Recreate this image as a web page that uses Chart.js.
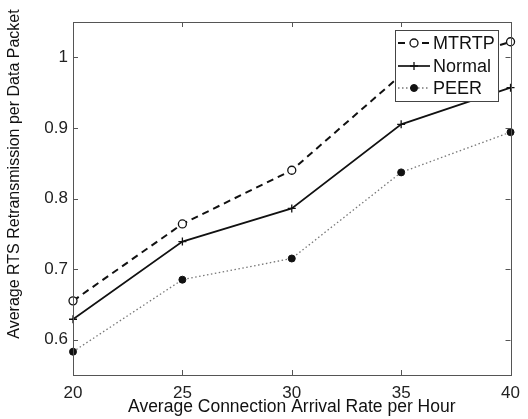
<!DOCTYPE html>
<html>
<head>
<meta charset="utf-8">
<script src="https://cdn.jsdelivr.net/npm/chart.js@4"></script>
<style>
  html, body { margin: 0; padding: 0; background: #fff; }
  #wrap { width: 528px; height: 419px; }
</style>
</head>
<body>
<div id="wrap"><canvas id="c" width="528" height="419"></canvas></div>
<script>
// Connection arrival rates (per hour)
const arrivalRates = [20, 25, 30, 35, 40];
// Average RTS retransmissions per data packet for each scheme
const mtrtpValues  = [0.655, 0.764, 0.840, 0.975, 1.022];
const normalValues = [0.629, 0.739, 0.786, 0.905, 0.957];
const peerValues   = [0.583, 0.685, 0.715, 0.837, 0.894];
// Axis ticks
const xTicks = [20, 25, 30, 35, 40];
const yTicks = [0.6, 0.7, 0.8, 0.9, 1.0];
const seriesNames = ['MTRTP', 'Normal', 'PEER'];
const yTitle = 'Average RTS Retransmission per Data Packet';
const xTitle = 'Average Connection Arrival Rate per Hour';

const FONT = 'Liberation Sans, Arial, Helvetica, sans-serif';

function toPoints(vals) {
  return arrivalRates.map((x, i) => ({ x: x, y: vals[i] }));
}

// Draws the box frame with inward ticks on all four sides, the legend and the y title
const framePlugin = {
  id: 'frame',
  afterDatasetsDraw(chart) {
    const ctx = chart.ctx;
    const a = chart.chartArea;
    const xs = chart.scales.x, ys = chart.scales.y;
    const tl = 5;
    ctx.save();
    ctx.strokeStyle = '#555';
    ctx.lineWidth = 1;
    ctx.beginPath();
    xTicks.forEach(v => {
      const px = Math.round(xs.getPixelForValue(v)) + 0.5;
      ctx.moveTo(px, a.bottom); ctx.lineTo(px, a.bottom - tl);
      ctx.moveTo(px, a.top); ctx.lineTo(px, a.top + tl);
    });
    yTicks.forEach(v => {
      const py = Math.round(ys.getPixelForValue(v)) + 0.5;
      ctx.moveTo(a.left, py); ctx.lineTo(a.left + tl, py);
      ctx.moveTo(a.right, py); ctx.lineTo(a.right - tl, py);
    });
    ctx.stroke();
    ctx.strokeRect(Math.round(a.left) + 0.5, Math.round(a.top) + 0.5,
                   Math.round(a.right - a.left), Math.round(a.bottom - a.top));
    ctx.restore();
  },
  afterDraw(chart) {
    const ctx = chart.ctx;
    const a = chart.chartArea;

    // Rotated y-axis title
    ctx.save();
    ctx.translate(15, 174);
    ctx.rotate(-Math.PI / 2);
    ctx.fillStyle = '#111';
    ctx.font = '16px ' + FONT;
    ctx.textAlign = 'center';
    ctx.textBaseline = 'middle';
    ctx.fillText(yTitle, 0, 0);
    ctx.restore();

    // Legend box in the upper-right corner of the plot
    const bx = Math.round(a.right - 116), by = Math.round(a.top + 8), bw = 103, bh = 71;
    ctx.save();
    ctx.fillStyle = '#fff';
    ctx.fillRect(bx, by, bw, bh);
    ctx.strokeStyle = '#444';
    ctx.lineWidth = 1;
    ctx.strokeRect(bx + 0.5, by + 0.5, bw, bh);
    const rowY = [by + 13, by + 36, by + 58];
    chart.data.datasets.forEach((ds, i) => {
      const y = rowY[i];
      const x0 = bx + 3, x1 = bx + 35, xm = (x0 + x1) / 2;
      ctx.save();
      ctx.strokeStyle = ds.borderColor;
      ctx.lineWidth = ds.borderWidth;
      ctx.setLineDash(ds.borderDash || []);
      ctx.beginPath();
      ctx.moveTo(x0, y); ctx.lineTo(x1, y);
      ctx.stroke();
      ctx.restore();
      ctx.fillStyle = ds.pointBackgroundColor;
      ctx.strokeStyle = ds.pointBorderColor;
      ctx.lineWidth = ds.pointBorderWidth;
      ctx.beginPath();
      if (ds.pointStyle === 'circle') {
        ctx.arc(xm, y, ds.pointRadius, 0, Math.PI * 2);
        ctx.fill(); ctx.stroke();
      } else {
        ctx.moveTo(xm - ds.pointRadius, y); ctx.lineTo(xm + ds.pointRadius, y);
        ctx.moveTo(xm, y - ds.pointRadius); ctx.lineTo(xm, y + ds.pointRadius);
        ctx.stroke();
      }
      ctx.fillStyle = '#111';
      ctx.font = '18px ' + FONT;
      ctx.textBaseline = 'middle';
      ctx.textAlign = 'left';
      ctx.fillText(ds.label, x1 + 3, y + 1);
    });
    ctx.restore();
  }
};

new Chart(document.getElementById('c'), {
  type: 'line',
  data: {
    datasets: [
      {
        label: seriesNames[0],
        data: toPoints(mtrtpValues),
        borderColor: '#111',
        borderWidth: 2,
        borderDash: [7, 5],
        pointStyle: 'circle',
        pointRadius: 4,
        pointBorderWidth: 1.3,
        pointBorderColor: '#111',
        pointBackgroundColor: '#fff',
        clip: false
      },
      {
        label: seriesNames[1],
        data: toPoints(normalValues),
        borderColor: '#111',
        borderWidth: 1.7,
        pointStyle: 'cross',
        pointRadius: 4,
        pointBorderWidth: 1.3,
        pointBorderColor: '#111',
        pointBackgroundColor: '#111',
        clip: false
      },
      {
        label: seriesNames[2],
        data: toPoints(peerValues),
        borderColor: '#777',
        borderWidth: 1.3,
        borderDash: [1.5, 2.5],
        pointStyle: 'circle',
        pointRadius: 3.5,
        pointBorderWidth: 1,
        pointBorderColor: '#111',
        pointBackgroundColor: '#111',
        clip: false
      }
    ]
  },
  options: {
    responsive: false,
    animation: false,
    devicePixelRatio: 1,
    layout: { padding: { top: 22, right: 9, left: 0, bottom: 0 } },
    plugins: { legend: { display: false }, tooltip: { enabled: false } },
    elements: { line: { tension: 0 } },
    scales: {
      x: {
        type: 'linear',
        min: 20, max: 40,
        afterBuildTicks(s) { s.ticks = xTicks.map(v => ({ value: v })); },
        afterFit(s) { s.height = 44; },
        grid: { display: false, drawTicks: false },
        border: { display: false },
        ticks: {
          padding: 8,
          color: '#222',
          font: { family: FONT, size: 17 },
          maxRotation: 0,
          callback: v => String(v)
        },
        title: {
          display: true,
          text: xTitle,
          color: '#111',
          font: { family: FONT, size: 17.5, lineHeight: 1 },
          padding: { top: 0, bottom: 3 }
        }
      },
      y: {
        type: 'linear',
        min: 0.55, max: 1.05,
        afterBuildTicks(s) { s.ticks = yTicks.map(v => ({ value: v })); },
        afterFit(s) { s.width = 73; },
        grid: { display: false, drawTicks: false },
        border: { display: false },
        ticks: {
          padding: 5,
          color: '#222',
          font: { family: FONT, size: 17 },
          callback: v => String(Number(v.toFixed(2)))
        },
        title: { display: false }
      }
    }
  },
  plugins: [framePlugin]
});
</script>
</body>
</html>
